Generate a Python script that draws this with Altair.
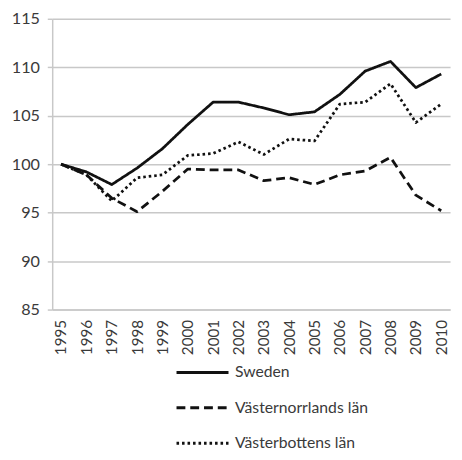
import altair as alt
import pandas as pd

years = [str(y) for y in range(1995, 2011)]
series_names = ["Sweden", "Västernorrlands län", "Västerbottens län"]
sweden = [100.0, 99.2, 97.9, 99.6, 101.6, 104.1, 106.4, 106.4, 105.8, 105.1, 105.4, 107.2, 109.6, 110.6, 107.9, 109.3]
vnorr = [100.0, 98.9, 96.5, 95.1, 97.2, 99.5, 99.4, 99.4, 98.3, 98.6, 97.9, 98.9, 99.3, 100.7, 96.8, 95.2]
vbott = [100.0, 98.9, 96.2, 98.6, 98.9, 100.9, 101.1, 102.3, 101.0, 102.6, 102.4, 106.2, 106.4, 108.3, 104.3, 106.2]
y_ticks = [85, 90, 95, 100, 105, 110, 115]

rows = []
for name, vals in zip(series_names, [sweden, vnorr, vbott]):
    for yr, v in zip(years, vals):
        rows.append({"year": yr, "value": v, "series": name})
df = pd.DataFrame(rows)

FONT = "Lato"
TXT = "#3a3a3a"
GRID = "#c8c8c8"

chart = alt.Chart(df).mark_line(strokeWidth=2.8, strokeCap="butt", strokeJoin="round", color="#111111").encode(
    x=alt.X("year:O", sort=years,
            scale=alt.Scale(type="point", padding=0.35),
            axis=alt.Axis(title=None, labelAngle=-90, ticks=False, labelPadding=10,
                          domain=True, domainColor=GRID, domainWidth=1.5, grid=False,
                          labelFontSize=15.5, labelFont=FONT, labelColor=TXT)),
    y=alt.Y("value:Q",
            scale=alt.Scale(domain=[85, 115], nice=False, zero=False),
            axis=alt.Axis(title=None, values=y_ticks, grid=True, gridColor=GRID, gridWidth=1.5,
                          domain=True, domainColor=GRID, domainWidth=1.5,
                          ticks=True, tickSize=5, tickColor=GRID, tickWidth=1.5,
                          labelPadding=8, labelFontSize=16.5, labelFont=FONT, labelColor=TXT)),
    strokeDash=alt.StrokeDash("series:N", sort=series_names,
                              scale=alt.Scale(domain=series_names, range=[[1, 0], [9, 5], [2.6, 3]]),
                              legend=alt.Legend(title=None, orient="none", legendX=125, legendY=332,
                                                direction="vertical", symbolType="stroke",
                                                symbolSize=2800, symbolStrokeWidth=3,
                                                symbolStrokeColor="#111111",
                                                labelFontSize=16, labelFont=FONT, labelColor=TXT,
                                                labelOffset=5, labelLimit=300, rowPadding=-21)),
).properties(
    width=405, height=296,
    autosize=alt.AutoSizeParams(type="none"),
    padding={"left": 45, "top": 7, "right": 4, "bottom": 141},
    background="white",
).configure_view(stroke=None)

chart.save("out.html", embed_options={"renderer": "svg", "actions": False})
